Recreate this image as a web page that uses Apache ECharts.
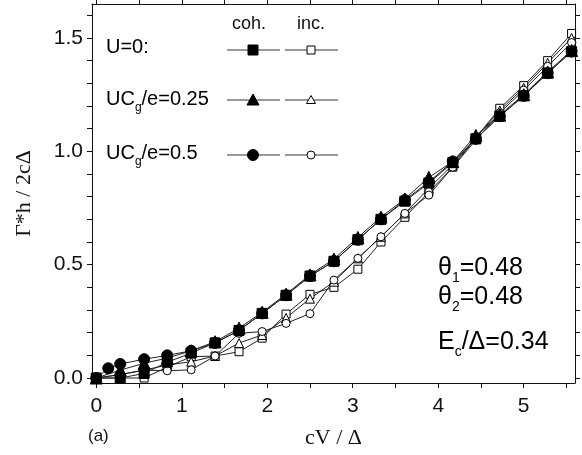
<!DOCTYPE html>
<html>
<head>
<meta charset="utf-8">
<script src="https://cdn.jsdelivr.net/npm/echarts@6/dist/echarts.min.js"></script>
<style>
  html, body { margin: 0; padding: 0; background: #fff; }
  #chart { width: 582px; height: 455px; }
</style>
</head>
<body>
<div id="chart"></div>
<script>
// bias points eV/Delta
var xs = [0, 0.28, 0.56, 0.83, 1.11, 1.39, 1.67, 1.94, 2.22, 2.5, 2.78, 3.06, 3.33, 3.61, 3.89, 4.17, 4.44, 4.72, 5.0, 5.28, 5.56];
// U=0.5 coherent series has one extra point at 0.14
var xsCirc = [0, 0.14, 0.28, 0.56, 0.83, 1.11, 1.39, 1.67, 1.94, 2.22, 2.5, 2.78, 3.06, 3.33, 3.61, 3.89, 4.17, 4.44, 4.72, 5.0, 5.28, 5.56];

// coherent
var cohU0   = [0, 0, 0.02, 0.07, 0.11, 0.155, 0.21, 0.285, 0.365, 0.45, 0.515, 0.61, 0.70, 0.78, 0.86, 0.95, 1.055, 1.155, 1.245, 1.345, 1.44];
var cohU025 = [0, 0.035, 0.065, 0.088, 0.12, 0.16, 0.22, 0.29, 0.37, 0.455, 0.525, 0.62, 0.71, 0.79, 0.885, 0.955, 1.07, 1.16, 1.25, 1.35, 1.445];
var cohU05  = [0, 0.043, 0.062, 0.083, 0.10, 0.12, 0.155, 0.21, 0.285, 0.365, 0.45, 0.515, 0.61, 0.70, 0.785, 0.865, 0.955, 1.055, 1.155, 1.245, 1.345, 1.44];
// incoherent
var incU0   = [0, 0, 0, 0.048, 0.094, 0.097, 0.116, 0.176, 0.282, 0.369, 0.40, 0.48, 0.60, 0.709, 0.82, 0.93, 1.06, 1.19, 1.29, 1.40, 1.52];
var incU025 = [0, 0.015, 0.035, 0.057, 0.072, 0.097, 0.154, 0.19, 0.265, 0.35, 0.425, 0.528, 0.623, 0.726, 0.837, 0.94, 1.06, 1.18, 1.28, 1.39, 1.50];
var incU05  = [0, 0.015, 0.035, 0.032, 0.036, 0.097, 0.197, 0.205, 0.241, 0.284, 0.432, 0.528, 0.623, 0.726, 0.807, 0.93, 1.05, 1.17, 1.27, 1.375, 1.48];

var xTicks = [0, 0.5, 1, 1.5, 2, 2.5, 3, 3.5, 4, 4.5, 5, 5.5];
var xLabels = [0, 1, 2, 3, 4, 5];
var yTicks = [0, 0.1, 0.2, 0.3, 0.4, 0.5, 0.6, 0.7, 0.8, 0.9, 1.0, 1.1, 1.2, 1.3, 1.4, 1.5, 1.6];
var yLabels = [0, 0.5, 1.0, 1.5];

function pairs(x, y) {
  return y.map(function (v, i) { return [x[i], v]; });
}

var sans = 'Liberation Sans, Arial, sans-serif';
var serif = 'Liberation Serif, Times New Roman, serif';
var ink = '#111';

function mk(name, x, y, symbol, size, filled, z) {
  return {
    name: name, type: 'line', data: pairs(x, y),
    symbol: symbol, symbolSize: size, showAllSymbol: true,
    lineStyle: { color: '#222', width: 1 },
    itemStyle: { color: filled ? '#000' : '#fff', borderColor: '#000', borderWidth: 1 },
    z: z, animation: false
  };
}

function baseX(pos, labels) {
  return {
    type: 'value', position: pos, min: -0.05, max: 5.6,
    axisLine: { show: true, onZero: false, lineStyle: { color: ink, width: 1 } },
    axisTick: { show: true, inside: false, length: 5, customValues: xTicks, lineStyle: { color: ink } },
    axisLabel: labels ? { show: true, customValues: xLabels, fontFamily: sans, fontSize: 21, color: ink, margin: 13 } : { show: false },
    splitLine: { show: false }
  };
}
function baseY(pos, labels) {
  return {
    type: 'value', position: pos, min: -0.022, max: 1.65,
    axisLine: { show: true, onZero: false, lineStyle: { color: ink, width: 1 } },
    axisTick: { show: true, inside: false, length: 5, customValues: yTicks, lineStyle: { color: ink } },
    axisLabel: labels ? { show: true, customValues: yLabels, fontFamily: sans, fontSize: 21, color: ink, margin: 9,
      formatter: function (v) { return v.toFixed(1); } } : { show: false },
    splitLine: { show: false }
  };
}

var chart = echarts.init(document.getElementById('chart'));

// legend sample pieces
var rows = [50, 100, 155];
var legendG = [];
function sym(kind, filled, cx, cy) {
  var st = { fill: filled ? '#000' : '#fff', stroke: '#000', lineWidth: 1 };
  if (kind === 'rect') {
    var s = filled ? 10 : 8;
    return { type: 'rect', shape: { x: cx - s / 2, y: cy - s / 2, width: s, height: s }, style: st, z: 10 };
  }
  if (kind === 'tri') {
    var h = filled ? 12 : 9;
    return { type: 'polygon', shape: { points: [[cx, cy - h / 2], [cx + h / 2, cy + h / 2 - 1], [cx - h / 2, cy + h / 2 - 1]] }, style: st, z: 10 };
  }
  return { type: 'circle', shape: { cx: cx, cy: cy, r: filled ? 5.5 : 4 }, style: st, z: 10 };
}
var kinds = ['rect', 'tri', 'circ'];
rows.forEach(function (y, i) {
  legendG.push({ type: 'line', shape: { x1: 227, y1: y, x2: 280, y2: y }, style: { stroke: '#333', lineWidth: 1 } });
  legendG.push({ type: 'line', shape: { x1: 285, y1: y, x2: 338, y2: y }, style: { stroke: '#333', lineWidth: 1 } });
  legendG.push(sym(kinds[i], true, 253, y));
  legendG.push(sym(kinds[i], false, 311, y));
});

var rich = {
  n: { fontFamily: sans, fontSize: 20, color: ink, lineHeight: 24, verticalAlign: 'top' },
  s: { fontFamily: sans, fontSize: 12, color: ink, lineHeight: 14, verticalAlign: 'top', padding: [13, 0, 0, 0] },
  m: { fontFamily: sans, fontSize: 25, color: ink, lineHeight: 28, verticalAlign: 'top' },
  t: { fontFamily: sans, fontSize: 14, color: ink, lineHeight: 16, verticalAlign: 'top', padding: [15, 0, 0, 0] }
};

var texts = [
  { type: 'text', left: 232, top: 15, style: { text: 'coh.', fontFamily: sans, fontSize: 18, fill: ink } },
  { type: 'text', left: 297, top: 15, style: { text: 'inc.', fontFamily: sans, fontSize: 18, fill: ink } },
  { type: 'text', left: 106, top: 37, style: { text: '{n|U=0:}', rich: rich } },
  { type: 'text', left: 106, top: 89, style: { text: '{n|UC}{s|g}{n|/e=0.25}', rich: rich } },
  { type: 'text', left: 106, top: 143, style: { text: '{n|UC}{s|g}{n|/e=0.5}', rich: rich } },
  { type: 'text', left: 438, top: 256, style: { text: '{m|θ}{t|1}{m|=0.48}', rich: rich } },
  { type: 'text', left: 438, top: 285, style: { text: '{m|θ}{t|2}{m|=0.48}', rich: rich } },
  { type: 'text', left: 438, top: 330, style: { text: '{m|E}{t|c}{m|/Δ=0.34}', rich: rich } },
  { type: 'text', left: 88, top: 428, style: { text: '(a)', fontFamily: sans, fontSize: 17, fill: ink } }
];

var option = {
  backgroundColor: '#fff',
  animation: false,
  grid: { left: 92, right: 7, top: 4, bottom: 72 },
  xAxis: [
    Object.assign(baseX('bottom', true), {
      name: 'cV / Δ', nameLocation: 'middle', nameGap: 44,
      nameTextStyle: { fontFamily: serif, fontSize: 22, color: ink }
    }),
    baseX('top', false)
  ],
  yAxis: [
    Object.assign(baseY('left', true), {
      name: 'Γ*h / 2cΔ', nameLocation: 'middle', nameGap: 57, nameRotate: 90,
      nameTextStyle: { fontFamily: serif, fontSize: 22, color: ink }
    }),
    baseY('right', false)
  ],
  series: [
    mk('inc U=0', xs, incU0, 'rect', 8, false, 2),
    mk('inc U=0.25', xs, incU025, 'triangle', 9, false, 2),
    mk('inc U=0.5', xs, incU05, 'circle', 8, false, 2),
    mk('coh U=0', xs, cohU0, 'rect', 10, true, 3),
    mk('coh U=0.25', xs, cohU025, 'triangle', 12, true, 3),
    mk('coh U=0.5', xsCirc, cohU05, 'circle', 11, true, 3)
  ],
  graphic: legendG.concat(texts)
};
chart.setOption(option);
</script>
</body>
</html>
